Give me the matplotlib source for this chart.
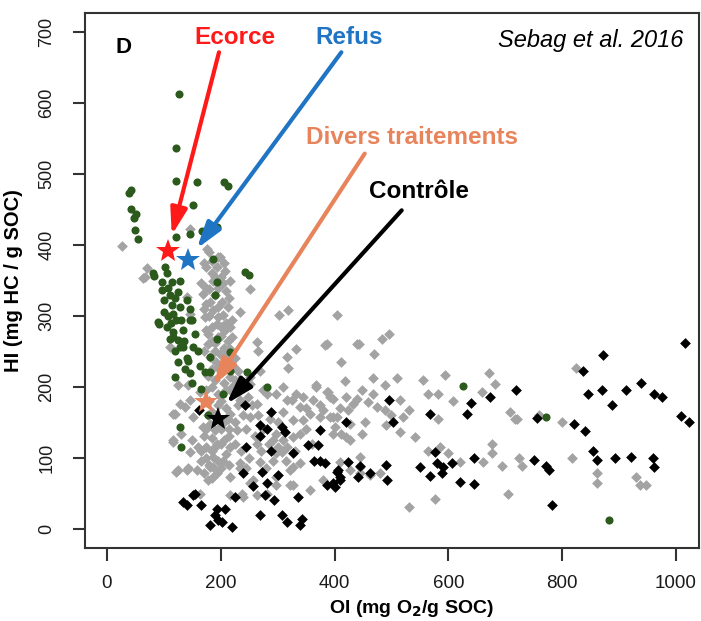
import matplotlib
matplotlib.use("Agg")
import matplotlib.pyplot as plt

plt.rcParams["font.family"] = ["Liberation Sans", "DejaVu Sans"]

# ---------------------------------------------------------------------------
# data (OI, HI)
# ---------------------------------------------------------------------------

gray_oi = [26, 146, 176, 70, 64, 67,
           184, 196, 199, 175, 193, 207, 166, 187, 204, 216, 169, 190, 202, 175,
           187, 204, 172, 219, 193, 175, 207, 196, 178, 216, 199, 181, 225, 207,
           231, 216, 240, 140, 146, 111, 125, 143,
           185, 200, 180, 195, 210, 182, 195, 212, 180, 195, 210, 185, 200, 212,
           185, 190, 205, 192, 215, 185, 200, 222, 190, 205, 175, 195, 210, 225,
           163, 128, 137, 120, 152, 169, 131, 116, 149, 175, 146, 187, 125, 143,
           158, 178, 193, 163, 181, 190, 190, 122, 140, 116, 146, 116,
           180, 195, 210, 178, 195, 212, 182, 200, 215, 185, 200, 170, 160, 175,
           195, 165, 210, 200, 185, 170,
           170, 180, 205, 190, 175, 215, 170, 200, 220, 178, 190, 170, 210, 195,
           178, 220, 185, 200, 230, 185, 205, 225, 175, 215, 185, 225, 165, 205,
           180, 215, 235, 245, 240, 255, 265, 275, 285, 250, 260, 300, 310, 350,
           360, 330, 315, 270, 245, 280, 350, 375, 410, 300,
           216, 251, 275, 298, 234, 263, 316, 339, 363, 216, 251, 286, 327, 380,
           199, 228, 298, 327, 193, 216, 263, 316, 204, 234, 292, 339, 187, 216,
           251, 322, 237, 222, 248, 281, 325, 345, 386, 398, 421, 433, 345, 374,
           398, 427, 398, 421, 339, 310, 298, 327, 298, 257, 327, 234, 445, 445,
           333, 368, 389, 357, 392, 292, 307, 269, 322, 298, 357, 380, 216, 240,
           263, 281,
           234, 251, 263, 266, 303, 319, 332, 383, 317, 319, 269, 251, 404, 368,
           309, 216, 386, 412, 439,
           443, 483, 496, 469, 418, 468, 489, 509, 448, 468, 439, 459, 474, 489,
           515, 530, 521, 500, 453, 424, 404, 392, 401, 448, 427, 412, 491, 515,
           556, 594, 565, 582, 609, 582, 541, 564, 585, 600, 620, 530, 576, 672,
           682, 660, 708, 717, 676, 676, 661, 694, 705, 409, 427, 445, 462, 480,
           720, 760, 799, 825, 725, 729, 818, 862, 862, 930, 937, 948]
gray_hi = [398, 422, 395, 367, 353, 355,
           378, 383, 383, 369, 369, 364, 346, 350, 346, 350, 331, 329, 320, 317,
           308, 301, 298, 294, 289, 280, 280, 270, 261, 254, 247, 242, 240, 233,
           223, 214, 204, 327, 303, 256, 202, 202,
           360, 355, 338, 340, 335, 320, 312, 312, 300, 298, 290, 285, 272, 265,
           265, 250, 255, 235, 240, 225, 222, 230, 210, 205, 195, 190, 195, 210,
           193, 176, 171, 162, 157, 143, 134, 122, 125, 115, 108, 101, 82, 85,
           82, 68, 78, 49, 87, 139, 115, 80, 82, 162, 181, 125,
           180, 175, 170, 160, 158, 155, 148, 140, 130, 128, 120, 130, 115, 100,
           95, 95, 105, 85, 72, 78,
           375, 390, 375, 355, 340, 325, 310, 285, 270, 275, 262, 250, 245, 228,
           215, 200, 200, 180, 175, 165, 150, 150, 140, 140, 110, 120, 110, 125,
           90, 90, 110, 140, 160, 175, 160, 140, 120, 100, 130, 150, 165, 140,
           120, 110, 95, 110, 85, 85, 170, 175, 170, 115,
           195, 204, 195, 190, 181, 176, 181, 171, 181, 162, 157, 155, 153, 167,
           143, 139, 134, 129, 120, 115, 120, 115, 96, 92, 96, 92, 87, 73,
           64, 82, 49, 195, 186, 190, 181, 186, 193, 183, 186, 176, 153, 157,
           157, 148, 134, 129, 134, 125, 106, 87, 73, 68, 61, 85, 101, 87,
           190, 200, 193, 162, 157, 125, 108, 94, 61, 61, 54, 68, 47, 45,
           47, 49,
           306, 338, 263, 251, 301, 308, 254, 259, 242, 226, 223, 214, 301, 202,
           200, 284, 261, 235, 261,
           261, 267, 274, 246, 208, 212, 202, 212, 195, 190, 183, 179, 172, 167,
           181, 167, 157, 160, 150, 167, 157, 186, 143, 134, 125, 134, 146, 136,
           210, 216, 190, 190, 180, 155, 129, 110, 115, 106, 94, 30, 42, 220,
           204, 193, 164, 154, 120, 106, 94, 89, 49, 94, 82, 78, 75, 78,
           154, 160, 150, 226, 100, 88, 100, 78, 64, 73, 61, 62]

green_oi = [126, 122, 122, 159, 39, 42, 43, 52, 48, 152, 50, 54, 146, 168, 122,
            206, 213, 194, 83, 243, 250, 186, 193, 128, 190,
            81, 102, 105, 96, 114, 96, 111, 125, 140, 100, 114, 117, 146, 122,
            90, 105, 146, 117, 134, 125, 111, 152, 128, 140, 125, 163, 146, 120,
            172, 193, 92, 131, 149, 117, 134, 143, 181, 181, 216, 216, 246, 281,
            166, 204, 178, 128, 131,
            108, 120, 100, 112, 128, 108, 135, 120, 155, 160, 138, 150,
            626, 772, 883]
green_hi = [613, 537, 491, 489, 473, 477, 451, 444, 438, 457, 421, 408, 415, 420, 411,
            489, 483, 426, 357, 362, 358, 381, 348, 350, 329,
            360, 369, 360, 348, 348, 336, 329, 334, 322, 322, 315, 303, 310, 294,
            291, 284, 294, 277, 280, 266, 268, 256, 256, 240, 235, 230, 219, 214,
            221, 268, 289, 294, 294, 270, 256, 237, 221, 242, 249, 223, 221, 200,
            197, 190, 160, 143, 115,
            340, 325, 305, 290, 312, 300, 265, 250, 275, 250, 225, 205,
            201, 157, 12]

black_oi = [162, 243, 289, 269, 281, 307, 313, 269, 245, 289, 327, 354, 371, 374,
            364, 374, 383, 404, 386, 401, 240, 272, 301, 257, 281, 278, 293, 336,
            225, 207, 190, 202, 219, 181, 269, 307, 316, 342, 339, 134, 140, 155,
            166, 152, 193, 196, 421, 424, 442, 409, 398,
            496, 503, 568, 639, 633, 673, 719, 406, 409, 445, 463, 491, 493, 550,
            576, 580, 568, 591, 589, 607, 645, 620, 645,
            756, 836, 871, 846, 870, 888, 912, 938, 962, 975, 1016, 1008, 1023,
            820, 840, 855, 862, 893, 921, 959, 962, 751, 772, 776, 783]
black_hi = [168, 174, 164, 146, 141, 143, 136, 131, 115, 110, 106, 118, 118, 139,
            96, 96, 92, 80, 61, 59, 78, 80, 75, 60, 64, 47, 40, 45,
            45, 28, 19, 9, 2, 5, 19, 19, 9, 14, 5, 38, 33, 49,
            33, 47, 28, 12, 150, 94, 73, 68, 64,
            182, 150, 161, 177, 162, 186, 196, 82, 73, 89, 78, 90, 68, 87,
            108, 92, 74, 87, 78, 92, 99, 66, 63,
            156, 222, 245, 190, 195, 174, 196, 206, 190, 186, 262, 159, 150,
            148, 137, 110, 97, 99, 101, 100, 87, 97, 89, 83, 33]

# mean points (stars) and their labels
star_names = ["Ecorce", "Refus", "Divers traitements", "Contrôle"]
star_oi = [108, 143, 175, 196]
star_hi = [392, 379, 179, 155]
star_colors = ["#ff1a1a", "#1f74c4", "#e8845c", "#000000"]
label_oi = [225, 425, 537, 549]
label_hi = [693, 693, 552, 475]
arrow_start_oi = [197, 412, 453, 518]
arrow_start_hi = [672, 672, 529, 449]
arrow_tip_oi = [114, 158, 187, 210]
arrow_tip_hi = [414, 395, 202, 176]

# ---------------------------------------------------------------------------
# plot
# ---------------------------------------------------------------------------

fig = plt.figure(figsize=(7.01, 6.21), dpi=100)
ax = fig.add_axes([0.1208, 0.118, 0.8768, 0.8606])

ax.scatter(gray_oi, gray_hi, marker="D", s=30, color="#a3a3a3", linewidths=0, zorder=2)
ax.scatter(green_oi, green_hi, marker="o", s=34, color="#2c5a1c", linewidths=0, zorder=3)
ax.scatter(black_oi, black_hi, marker="D", s=30, color="#000000", linewidths=0, zorder=4)

for i, name in enumerate(star_names):
    ax.plot(star_oi[i], star_hi[i], marker="*", markersize=18, color=star_colors[i],
            markeredgewidth=0, linestyle="none", zorder=6)
    ax.annotate("", xy=(arrow_tip_oi[i], arrow_tip_hi[i]),
                xytext=(arrow_start_oi[i], arrow_start_hi[i]),
                arrowprops=dict(arrowstyle="-|>,head_length=0.8,head_width=0.25",
                                color=star_colors[i], lw=3, mutation_scale=20,
                                shrinkA=0, shrinkB=0),
                zorder=7)
    ax.text(label_oi[i], label_hi[i], name, color=star_colors[i], fontsize=17.5,
            fontweight="bold", ha="center", va="center", zorder=8)

ax.text(29, 679, "D", fontsize=16, fontweight="bold", ha="center", va="center")
ax.text(1013, 689, "Sebag et al. 2016", fontsize=17, fontstyle="italic",
        ha="right", va="center")

ax.set_xlim(-39, 1041)
ax.set_ylim(-27, 727)
ax.set_xticks([0, 200, 400, 600, 800, 1000])
ax.set_yticks([0, 100, 200, 300, 400, 500, 600, 700])

for side in ["left", "bottom", "top", "right"]:
    ax.spines[side].set_linewidth(1.5)
    ax.spines[side].set_color("#333333")

ax.tick_params(axis="x", direction="out", length=9, width=1.5, pad=11,
               labelsize=13.5, color="#333333", labelcolor="#1a1a1a")
ax.tick_params(axis="y", direction="out", length=9, width=1.5, pad=12,
               labelsize=13, color="#333333", labelcolor="#1a1a1a")
plt.setp(ax.get_yticklabels(), rotation=90, va="center")

ax.set_xlabel("OI (mg O$_\\mathbf{2}$/g SOC)", fontsize=14, fontweight="bold")
ax.xaxis.set_label_coords(0.532, -0.095)
ax.set_ylabel("HI (mg HC / g SOC)", fontsize=14.5, fontweight="bold")
ax.yaxis.set_label_coords(-0.101, 0.5)

fig.savefig("out.png", dpi=100)
